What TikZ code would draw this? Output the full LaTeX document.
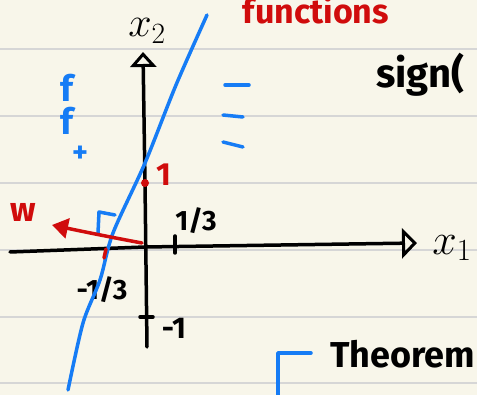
\RequirePackage{fix-cm}
\documentclass[tikz,border=0pt]{standalone}
\usepackage{fontspec}
\setmainfont{Fira Sans}
\usetikzlibrary{arrows.meta}
\definecolor{paper}{RGB}{248,246,234}
\definecolor{ruling}{RGB}{214,214,214}
\definecolor{inkblue}{RGB}{22,124,245}
\definecolor{inkred}{RGB}{208,12,12}
\begin{document}
\begin{tikzpicture}[x=1pt,y=-1pt,line cap=round,line join=round,
    pen/.style={line width=3.5pt},
    hand/.style={inner sep=0pt,font=\fontsize{#1}{#1}\selectfont\bfseries}]
  \useasboundingbox (0,0) rectangle (477,395);
  \fill[paper] (0,0) rectangle (477,395);
  \clip (0,0) rectangle (477,395);
  \foreach \y in {49,116,183,250,317,383}
    \draw[ruling,line width=1.5pt] (0,\y) -- (477,\y);
  \draw[pen,-{Triangle[open,length=15pt,width=30pt,line width=3pt]}] (10,252) -- (145,247) -- (417,243);
  \node[hand=44] (xone) at (452,248) {$x_1$};
  \draw[pen,-{Triangle[open,length=15pt,width=26pt,line width=3pt]}] (147,347) -- (145,183) -- (143,52);
  \node[hand=42] (xtwo) at (147,31) {$x_2$};
  \draw[pen] (175,236) -- (175,253);
  \draw[pen] (140,317) -- (153,317);
  \node[hand=28] (third) at (196,221) {1/3};
  \node[hand=28] (mthird) at (102,290) {-1/3};
  \node[hand=30] (mone) at (174,328) {-1};
  \draw[inkblue,pen] plot[smooth] coordinates {(207,15) (176,85) (145,163) (113,233) (100,280) (83,323) (68,390)};
  \draw[inkblue,pen] (98,233) -- (99,212) -- (115,215);
  \draw[inkblue,pen] (225,85) -- (249,85);
  \draw[inkblue,pen] (223,115) -- (243,117);
  \draw[inkblue,pen] (223,142) -- (243,147);
  \node[hand=36,inkblue] (fa) at (67,88) {f};
  \node[hand=36,inkblue] (fb) at (67,121) {f};
  \node[hand=30,inkblue] (plus) at (80,154) {+};
  \draw[inkblue,pen] (278,400) -- (278,353) -- (311,353);
  \draw[inkred,pen,-{Triangle[length=16pt,width=20pt]}] (142,243) .. controls (115,238) and (85,232) .. (52,225);
  \node[hand=34,inkred] (wlabel) at (23,212) {w};
  \fill[inkred] (145,183) circle (4pt);
  \node[hand=32,inkred] (one) at (164,175) {1};
  \draw[inkred,pen] (106,249) -- (104,258);
  \node[hand=34,inkred] (funcs) at (316,10) {functions};
  \node[hand=40,anchor=base west] (sign) at (376,88) {sign(};
  \node[hand=36,anchor=base east] (theorem) at (475,368) {Theorem};
\end{tikzpicture}
\end{document}
